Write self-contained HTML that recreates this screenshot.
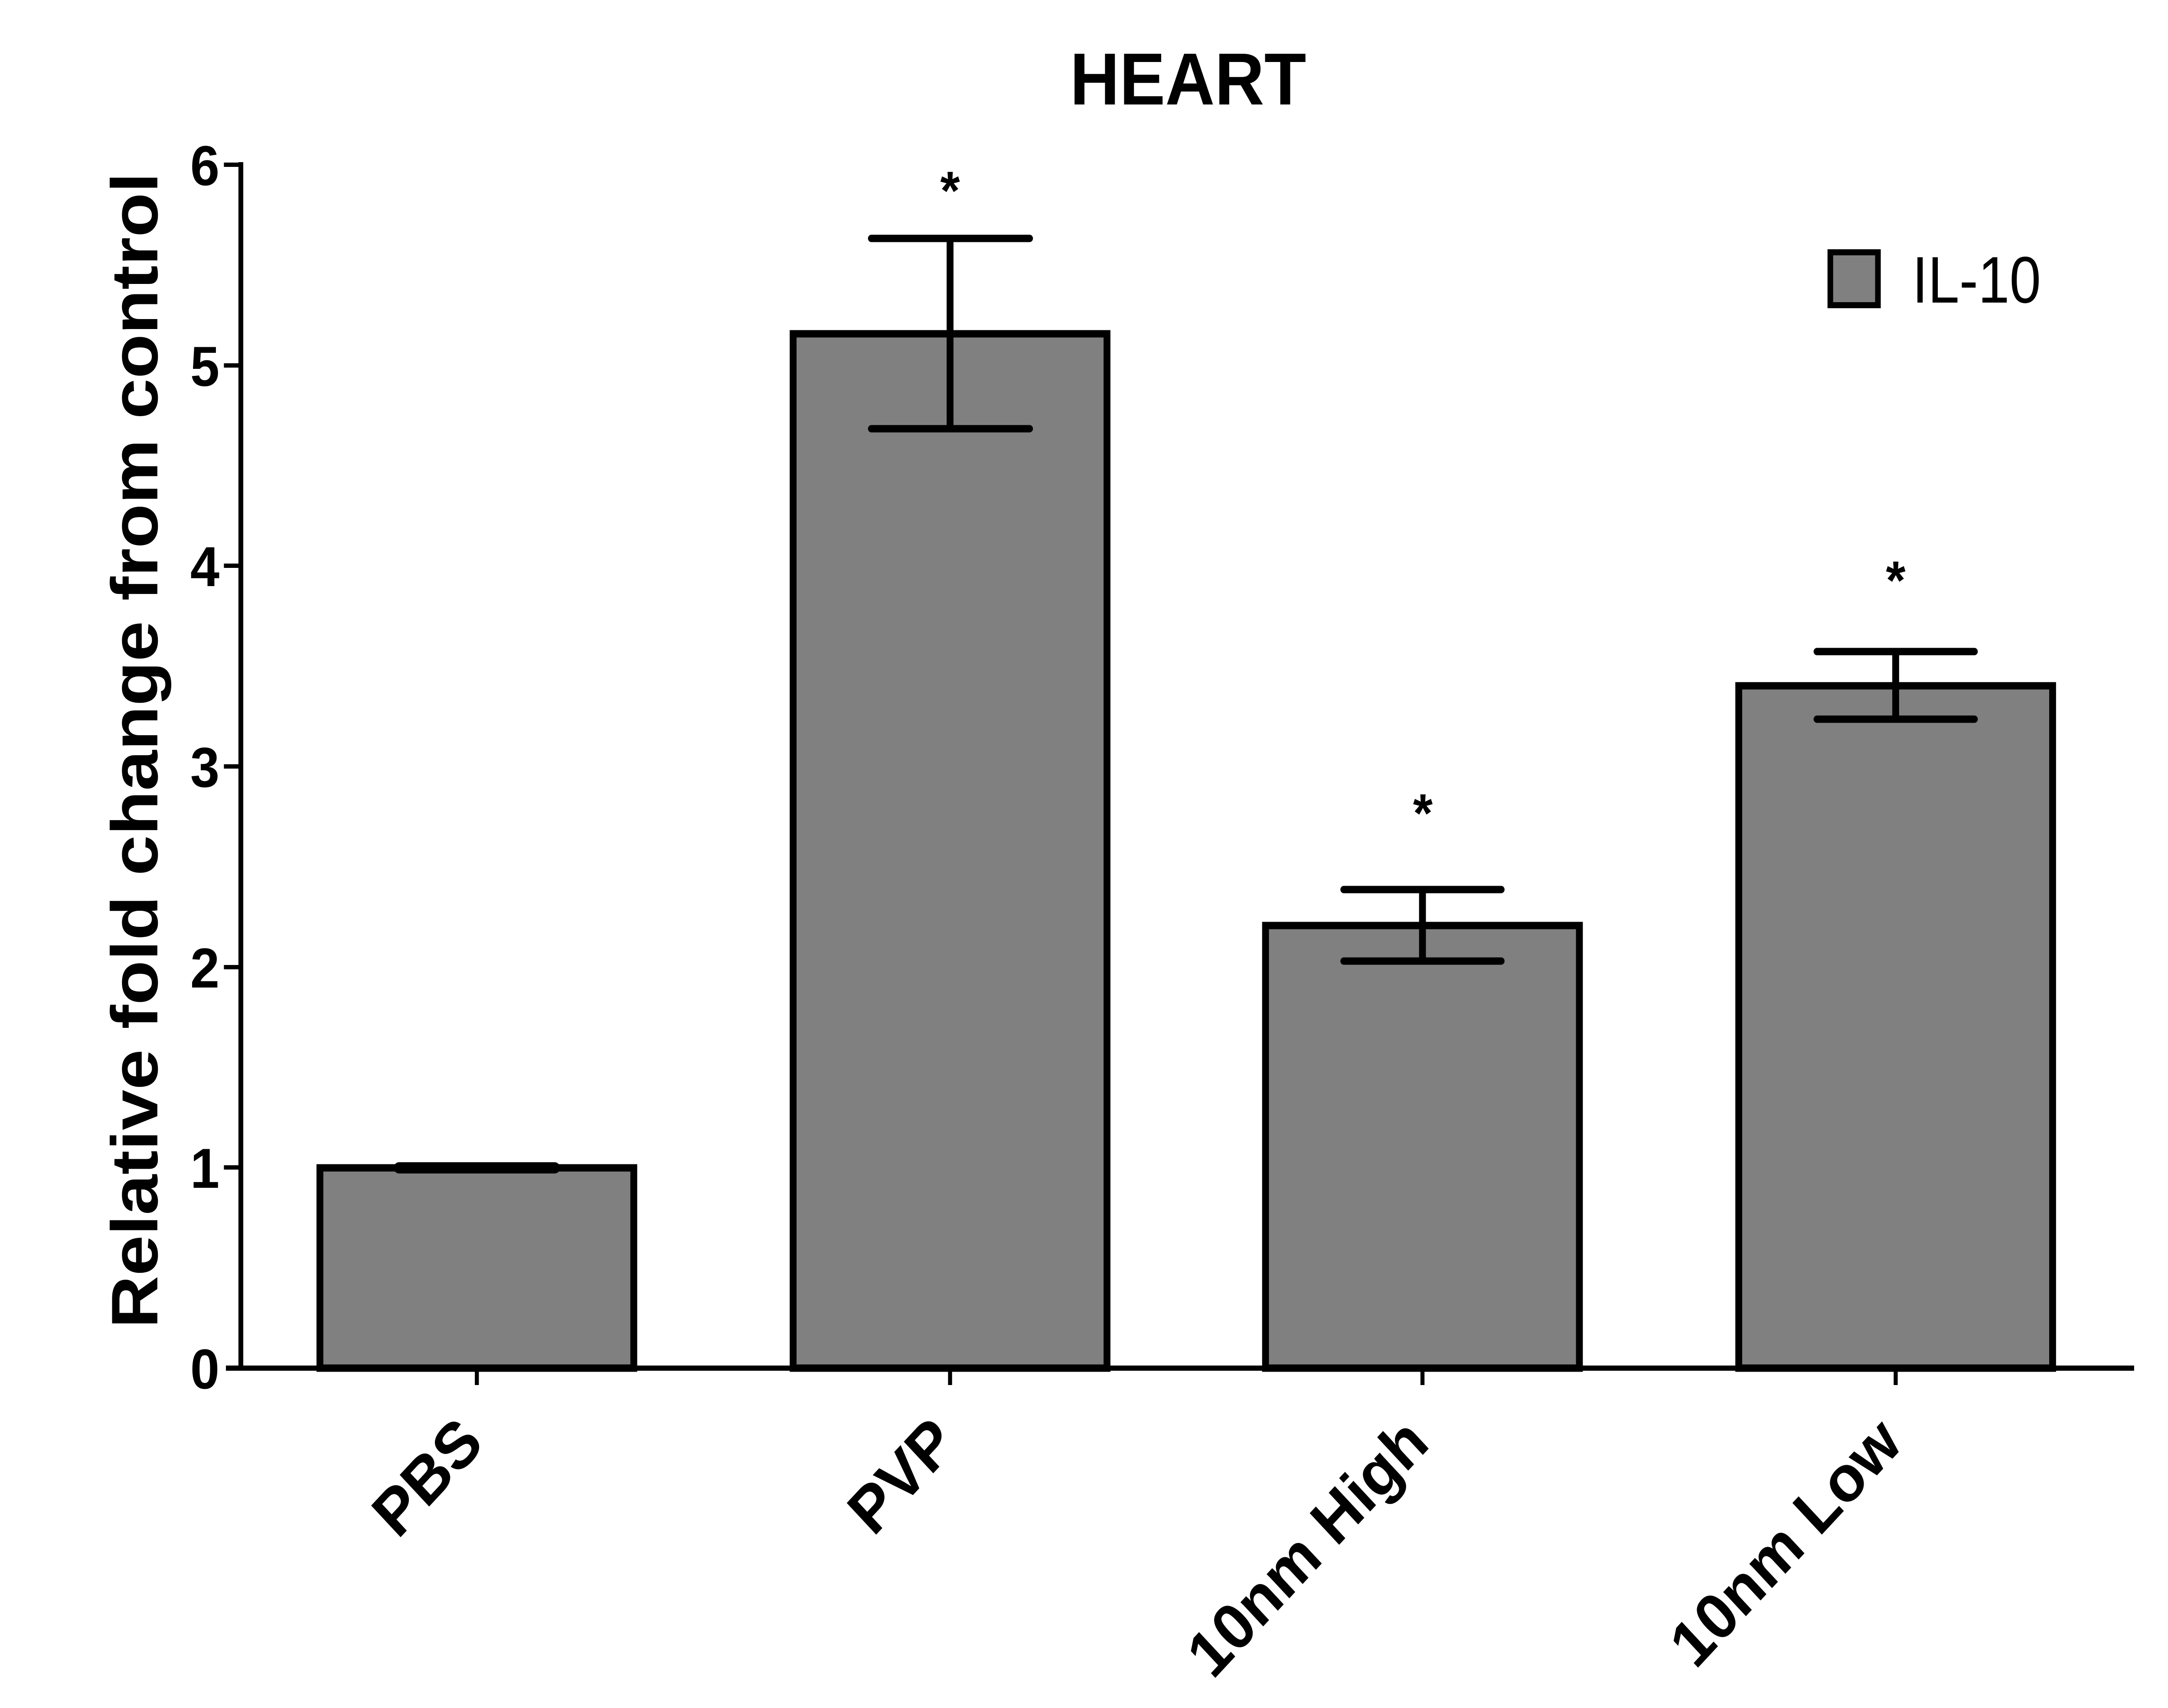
<!DOCTYPE html>
<html><head><meta charset="utf-8"><style>
html,body{margin:0;padding:0;background:#fff;width:100vw;height:100vh;overflow:hidden;}
svg{display:block;width:100vw;height:100vh;}
</style></head><body>
<svg viewBox="0 0 5374 3940" preserveAspectRatio="none" xmlns="http://www.w3.org/2000/svg" font-family="Liberation Sans, Arial, sans-serif">
<rect width="5374" height="3940" fill="#fff"/>
<text x="2945" y="241" font-size="170" font-weight="bold" text-anchor="middle">HEART</text>
<g fill="#808080" stroke="#000" stroke-width="17">
<rect x="793" y="2694" width="778" height="462"/>
<rect x="1966" y="770" width="778" height="2386"/>
<rect x="3137" y="2135" width="778" height="1021"/>
<rect x="4310" y="1582" width="778" height="1574"/>
</g>
<g stroke="#000" stroke-width="17" fill="none">
<line x1="2355" y1="550" x2="2355" y2="989"/>
<line x1="3526" y1="2052" x2="3526" y2="2217"/>
<line x1="4699" y1="1503" x2="4699" y2="1659"/>
</g>
<g stroke="#000" stroke-width="17" stroke-linecap="round">
<line x1="2160" y1="550" x2="2552" y2="550"/>
<line x1="2160" y1="989" x2="2552" y2="989"/>
<line x1="3331" y1="2052" x2="3721" y2="2052"/>
<line x1="3331" y1="2217" x2="3721" y2="2217"/>
<line x1="4504" y1="1503" x2="4894" y2="1503"/>
<line x1="4504" y1="1659" x2="4894" y2="1659"/>
<line x1="989" y1="2694" x2="1375" y2="2694" stroke-width="26"/>
</g>
<g font-size="125" font-weight="bold" text-anchor="middle">
<text x="2355" y="483">*</text>
<text x="3527" y="1919">*</text>
<text x="4699" y="1382">*</text>
</g>
<g stroke="#000" stroke-width="12" fill="none">
<line x1="597" y1="374" x2="597" y2="3162"/>
<line x1="560" y1="3156" x2="5290" y2="3156"/>
</g>
<g stroke="#000" stroke-width="10">
<line x1="555" y1="380" x2="597" y2="380"/>
<line x1="555" y1="843" x2="597" y2="843"/>
<line x1="555" y1="1305" x2="597" y2="1305"/>
<line x1="555" y1="1768" x2="597" y2="1768"/>
<line x1="555" y1="2231" x2="597" y2="2231"/>
<line x1="555" y1="2693" x2="597" y2="2693"/>
<line x1="1182" y1="3156" x2="1182" y2="3195"/>
<line x1="2355" y1="3156" x2="2355" y2="3195"/>
<line x1="3526" y1="3156" x2="3526" y2="3195"/>
<line x1="4699" y1="3156" x2="4699" y2="3195"/>
</g>
<g font-size="130" font-weight="bold" text-anchor="end">
<text x="544" y="427">6</text>
<text x="544" y="890">5</text>
<text x="544" y="1352">4</text>
<text x="544" y="1815">3</text>
<text x="544" y="2278">2</text>
<text x="544" y="2740">1</text>
<text x="544" y="3203">0</text>
</g>
<text transform="translate(390,1731) rotate(-90)" font-size="163" font-weight="bold" text-anchor="middle" textLength="2666" lengthAdjust="spacingAndGlyphs">Relative fold change from control</text>
<g font-size="150" font-weight="bold" text-anchor="end">
<text transform="translate(1204,3335) rotate(-45)">PBS</text>
<text transform="translate(2377,3335) rotate(-45)">PVP</text>
<text transform="translate(3548,3335) rotate(-45)">10nm High</text>
<text transform="translate(4721,3335) rotate(-45)">10nm Low</text>
</g>
<rect x="4537" y="582" width="118" height="122" fill="#808080" stroke="#000" stroke-width="14"/>
<text x="4740" y="698" font-size="152" textLength="319" lengthAdjust="spacingAndGlyphs">IL-10</text>
</svg>
</body></html>
